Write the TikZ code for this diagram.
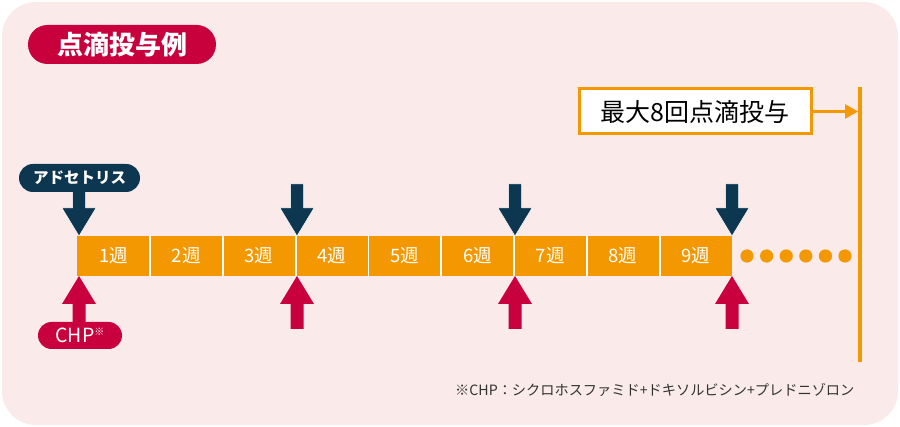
\documentclass[tikz,border=0pt]{standalone}
\usepackage{fontspec}
\setmainfont{Noto Sans CJK JP}
\usetikzlibrary{arrows.meta}
\definecolor{crim}{HTML}{C8003C}
\definecolor{navy}{HTML}{0D3651}
\definecolor{org}{HTML}{F39800}
\definecolor{bgpink}{HTML}{FAEAEA}
\definecolor{foot}{HTML}{333333}
\tikzset{
  pill/.style={rectangle, rounded corners=#1, inner sep=0pt, text=white},
  cell/.style={rectangle, fill=org, minimum width=72.8pt, minimum height=40pt, inner sep=0pt, text=white, font=\fontsize{18.5}{18.5}\selectfont},
  dot/.style={circle, fill=org, minimum size=13.2pt, inner sep=0pt},
  dnarr/.pic={\filldraw[fill=navy, draw=white, line width=0.5pt] (0,0) -- (-17,-28) -- (-6.5,-28) -- (-6.5,-52) -- (6.5,-52) -- (6.5,-28) -- (17,-28) -- cycle;},
  uparr/.pic={\fill[crim] (0,0) -- (-17,28) -- (-6.5,28) -- (-6.5,53) -- (6.5,53) -- (6.5,28) -- (17,28) -- cycle;}
}
\begin{document}
\begin{tikzpicture}[x=1pt,y=-1pt]
\useasboundingbox (0,0) rectangle (900,427);
\fill[bgpink, rounded corners=34pt] (2,2) rectangle (898,425);

% title
\node[pill=19.5pt, fill=crim, minimum width=188pt, minimum height=39pt, font=\fontsize{26}{26}\selectfont\bfseries] (title) at (122,44.5) {点滴投与例};

% max box
\node[draw=org, line width=3pt, fill=white, minimum width=232pt, minimum height=45pt, inner sep=0pt, font=\fontsize{25}{25}\selectfont] (maxbox) at (695,111.5) {最大8回点滴投与};
\coordinate (lineTop) at (860,87);
\coordinate (lineBot) at (860,362);
\draw[org, line width=4pt] (lineTop) -- (lineBot);
\coordinate (hit) at (858,111.5);
\draw[org, line width=2.5pt, -{Triangle[length=13pt,width=14pt]}] (maxbox.east) -- (hit);

% arrows
\foreach \x in {79,297,515,732} {
  \pic at (\x,236) {dnarr};
  \pic at (\x,276) {uparr};
}

% weeks
\foreach \i in {1,...,9} {
  \node[cell] (w\i) at ({77+72.8*(\i-0.5)},256) {{\i}週};
}
\foreach \i in {1,...,8} {
  \draw[white, line width=1.8pt] (w\i.north east) -- (w\i.south east);
}
\foreach \k in {0,...,5} {
  \node[dot] (d\k) at ({747+19.6*\k},256) {};
}

% labels
\node[pill=14pt, fill=navy, minimum width=121pt, minimum height=28pt, font=\fontsize{15.5}{15.5}\selectfont\bfseries] (adc) at (79.5,178) {アドセトリス};
\node[pill=13.5pt, fill=crim, minimum width=84pt, minimum height=27pt, font=\fontsize{19.5}{19.5}\selectfont] (chp) at (80,335.5) {CHP\raisebox{0.4em}{\fontsize{10}{10}\selectfont\bfseries ※}};

% footnote
\node[anchor=west, inner sep=0pt, text=foot, font=\fontsize{14.2}{14.2}\selectfont] (note) at (455,390) {※CHP：シクロホスファミド+ドキソルビシン+プレドニゾロン};
\end{tikzpicture}
\end{document}
